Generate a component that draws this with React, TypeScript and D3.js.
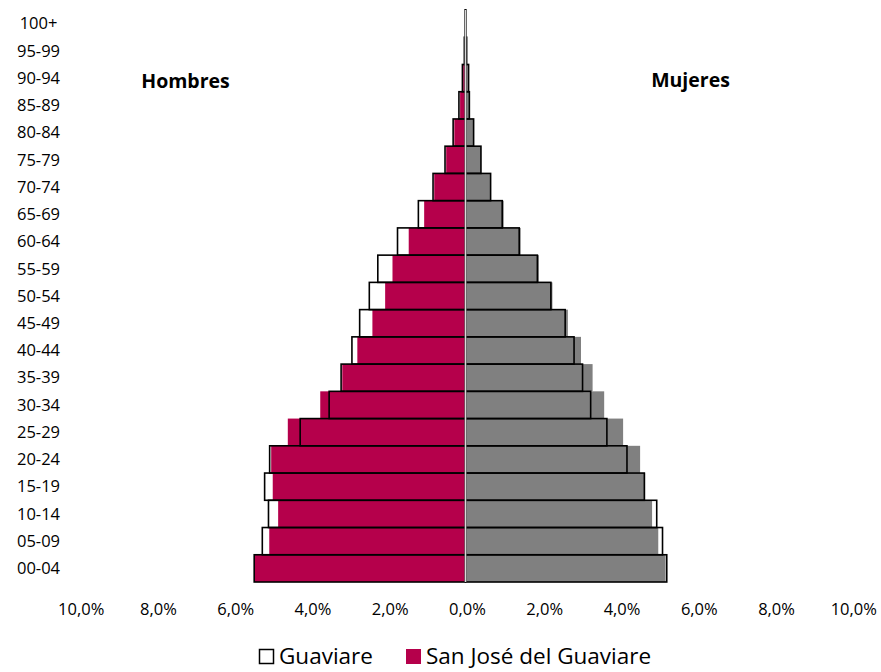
import React from "react";
import * as d3 from "d3";

const categories = ["00-04","05-09","10-14","15-19","20-24","25-29","30-34","35-39","40-44","45-49","50-54","55-59","60-64","65-69","70-74","75-79","80-84","85-89","90-94","95-99","100+"];
const menGuaviare = [5.47,5.26,5.10,5.20,5.07,4.28,3.53,3.22,2.94,2.74,2.49,2.27,1.76,1.22,0.84,0.53,0.32,0.17,0.08,0.03,0.01];
const menSanJose = [5.45,5.08,4.85,4.99,5.03,4.60,3.76,3.19,2.80,2.41,2.08,1.89,1.47,1.07,0.81,0.50,0.29,0.14,0.06,0.02,0.01];
const womenGuaviare = [5.21,5.10,4.95,4.63,4.18,3.66,3.24,3.03,2.81,2.58,2.21,1.86,1.39,0.95,0.65,0.40,0.21,0.10,0.08,0.03,0.01];
const womenSanJose = [5.18,4.99,4.83,4.65,4.52,4.08,3.59,3.29,2.99,2.65,2.25,1.90,1.43,0.99,0.66,0.40,0.21,0.09,0.06,0.02,0.01];
const xTicks = [-10,-8,-6,-4,-2,0,2,4,6,8,10];
const legendLabels = ["Guaviare", "San José del Guaviare"];

const W = 881, H = 672;
const FONT = "'Open Sans', 'DejaVu Sans', sans-serif";
const CRIMSON = "#B5004B";
const GRAY = "#808080";

export default function App() {
  const x = d3.scaleLinear().domain([-10, 10]).range([79.2, 851.8]);
  const y = d3.scaleBand<string>().domain([...categories].reverse()).range([10, 582]).paddingInner(0).paddingOuter(0);
  const bw = y.bandwidth();
  const x0 = x(0);
  const fmt = (v: number) => Math.abs(v).toFixed(1).replace(".", ",") + "%";

  return (
    <div style={{ position: "absolute", left: 0, top: 0 }}>
      <svg width={W} height={H} style={{ display: "block", background: "#fff" }} fontFamily={FONT}>
        {/* San José filled bars */}
        {categories.map((c, i) => (
          <g key={"sj" + c}>
            <rect x={x(-menSanJose[i])} y={y(c)!} width={x0 - x(-menSanJose[i])} height={bw} fill={CRIMSON} />
            <rect x={x0} y={y(c)!} width={x(womenSanJose[i]) - x0} height={bw} fill={GRAY} />
          </g>
        ))}
        {/* Guaviare outline bars */}
        {categories.map((c, i) => (
          <g key={"g" + c} fill="none" stroke="#000" strokeWidth={1.6}>
            <rect x={x(-menGuaviare[i])} y={y(c)!} width={x0 - x(-menGuaviare[i])} height={bw} />
            <rect x={x0} y={y(c)!} width={x(womenGuaviare[i]) - x0} height={bw} />
          </g>
        ))}
        {/* center axis line */}
        <line x1={x0} x2={x0} y1={10} y2={582} stroke="#d9d9d9" strokeWidth={1.6} />
        {/* category labels */}
        {categories.map((c) => (
          <text key={"l" + c} x={38.5} y={y(c)! + bw / 2} dy="0.35em" textAnchor="middle" fontSize={16.5} fill="#000">{c}</text>
        ))}
        {/* x tick labels */}
        {xTicks.map((t) => (
          <text key={"t" + t} x={x(t) + 2} y={609} dy="0.35em" textAnchor="middle" fontSize={16.5} fill="#000">{fmt(t)}</text>
        ))}
        {/* side titles */}
        <text x={185.5} y={81} dy="0.35em" textAnchor="middle" fontSize={19.5} fontWeight="bold" fill="#000">Hombres</text>
        <text x={690.5} y={80} dy="0.35em" textAnchor="middle" fontSize={19.5} fontWeight="bold" fill="#000">Mujeres</text>
        {/* legend */}
        <rect x={259.5} y={649.5} width={14} height={14} fill="#fff" stroke="#000" strokeWidth={1.5} />
        <text x={279} y={656.5} dy="0.35em" fontSize={22.5} fill="#000">{legendLabels[0]}</text>
        <rect x={406} y={649} width={15} height={15} fill={CRIMSON} />
        <text x={426} y={656.5} dy="0.35em" fontSize={22.5} fill="#000">{legendLabels[1]}</text>
      </svg>
    </div>
  );
}
